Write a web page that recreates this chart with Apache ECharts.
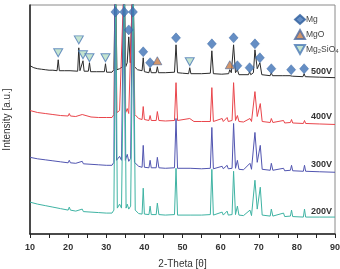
<!DOCTYPE html>
<html>
<head>
<meta charset="utf-8">
<script src="https://cdn.jsdelivr.net/npm/echarts@6/dist/echarts.min.js"></script>
<style>
  html, body { margin: 0; padding: 0; background: #fff; }
  #chart { width: 340px; height: 269px; }
</style>
</head>
<body>
<div id="chart"></div>
<script>
// XRD 패턴 (2θ, intensity a.u.) - 각 전압별
const pattern500V = [[10,169],[11,167],[12,166],[13,165.5],[14,165],[15,164.5],[16,164.5],[17.1,164],[17.4,175],[17.7,164],[19,164],[20.5,164],[22.5,163.5],[22.8,187],[23.1,164],[23.6,164],[23.9,174],[24.2,163.5],[25.3,163.5],[25.6,172],[25.9,163],[27.5,163],[29.5,163],[29.8,171],[30.1,162.5],[31.5,162.5],[32.0,165],[32.4,260],[32.8,165],[33.5,166],[34.3,168],[34.7,260],[35.1,168],[35.5,172],[35.9,198],[36.3,172],[36.6,174],[37.0,260],[37.4,168],[38.2,165],[39.4,164],[39.7,177],[40.0,163],[41.2,162],[41.5,167],[41.8,162],[43.1,162],[43.4,168],[43.7,162],[45.5,162],[47.9,162.5],[48.3,190],[48.7,162],[50,161.5],[51.6,161],[51.9,167],[52.2,161],[55,161],[57.3,161.5],[57.7,184],[58.1,161],[60.3,160.5],[60.5,162],[60.8,160.5],[62.1,161],[62.4,165],[62.8,162],[63.4,190],[63.9,162],[64.4,165],[64.8,160],[67.3,160],[67.6,163],[67.9,160],[68.6,162],[69.0,185],[69.6,166],[70.3,172],[70.8,160],[73.0,159],[73.3,162],[73.6,159],[76.3,159],[76.6,160],[76.9,159],[78.2,159],[78.5,161],[78.8,158.5],[81.6,158],[81.9,161],[82.2,158],[86,157.5],[90,157]];

const pattern400V = [[10,124],[12,122],[14,121],[16,120],[18,119],[20,118.5],[20.3,121],[20.6,118.5],[22,118],[23.7,120],[24,118],[26,117.5],[28,117],[30,117],[31.5,117],[32.0,120],[32.4,260],[32.8,122],[33.5,124],[34.0,122],[34.7,260],[35.1,122],[35.5,126],[35.9,121],[36.4,122],[37.0,260],[37.5,120],[38.5,116],[39.4,115],[39.7,128],[40.0,115],[41.2,114],[41.5,119],[41.8,114],[43.1,114],[43.4,123],[43.8,114],[45.5,113.5],[47.9,114],[48.3,152],[48.7,114],[51.9,116],[53,113],[55,113],[57.3,113],[57.7,147],[58.1,113],[60.4,116],[60.7,113],[61.7,117],[62.0,113],[63.0,114],[63.4,152],[63.9,114],[64.4,119],[64.8,113],[66,112.5],[67.7,116],[68.1,113],[68.6,114],[69.0,143],[69.6,118],[70.4,131],[70.9,113],[73.0,112],[73.3,116],[73.7,112],[76.5,114],[76.8,111.5],[78.3,112],[78.6,115],[78.9,111.5],[81.7,111],[82,114],[82.3,111],[86,110.5],[90,110]];

const pattern300V = [[10,77],[12,75.5],[14,74.5],[16,73.5],[18,72.5],[20,71.5],[20.3,74],[20.6,71.5],[22,71],[23.7,73],[24,70.5],[26,70],[28,69.5],[30,69],[31.5,69],[32.0,72],[32.3,260],[32.7,74],[33.5,78],[34.0,74],[34.6,260],[35.0,74],[35.5,80],[35.9,73],[36.4,76],[36.9,260],[37.4,72],[38.5,68],[39.4,67],[39.7,89],[40.0,67],[41.2,66.5],[41.5,74],[41.8,66.5],[43.1,66.5],[43.4,77],[43.8,66.5],[45.5,66],[47.9,66.5],[48.3,116],[48.7,66],[52,66],[55,65.5],[57.3,66],[57.7,107],[58.1,65.5],[60.4,68],[60.7,65.5],[61.7,69],[62.0,65.5],[63.0,66],[63.4,111],[63.9,66],[64.4,74],[64.8,65],[66,64.5],[67.7,71],[68.1,65],[68.6,66],[69.0,102],[69.6,72],[70.4,89],[70.9,65],[73.0,64],[73.3,71],[73.7,64],[76.5,66],[76.8,63.5],[78.3,64],[78.6,69],[78.9,63.5],[81.7,63],[82,69],[82.3,63],[86,62.5],[90,62]];

const pattern200V = [[10,32],[12,30],[14,28.5],[16,27],[18,25.5],[20,24],[20.3,27],[20.6,24],[22,23],[23.7,25],[24,22.5],[26,22],[28,21.5],[30,21],[31.5,21],[32.0,24],[32.5,260],[32.9,26],[33.5,30],[34.0,26],[34.8,260],[35.2,26],[35.5,30],[35.9,25],[36.4,28],[37.1,260],[37.6,24],[38.5,20.5],[39.4,20],[39.7,46],[40.0,20],[41.2,19.5],[41.5,28],[41.8,19.5],[43.1,19.5],[43.4,31],[43.8,19.5],[45.5,19],[47.9,19.5],[48.3,66],[48.7,19],[52,19],[55,19],[57.3,19.5],[57.7,65],[58.1,19],[60.4,22],[60.7,19],[61.7,23],[62.0,19],[63.0,19.5],[63.4,63],[63.9,19.5],[64.4,28],[64.8,19],[66,18.5],[67.7,24],[68.1,18.5],[68.6,19.5],[69.0,54],[69.6,25],[70.4,47],[70.9,19],[73.0,18],[73.3,25],[73.7,18],[76.5,21],[76.8,17.5],[78.3,18],[78.6,24],[78.9,17.5],[81.7,17],[82,25],[82.3,17],[86,17],[90,17]];

// 상(phase) 표시 마커 위치
const mgMarks = [[32.4,223],[34.7,223],[37.0,223],[35.9,205],[39.7,183],[41.5,172],[48.3,197],[57.7,191],[63.4,197],[64.4,169],[67.6,167],[69.0,191],[70.3,177],[73.3,166],[78.5,165],[81.9,166]];
const mgoMarks = [[43.4,174],[62.4,170]];
const mg2sio4Marks = [[17.4,182],[22.8,195],[23.9,180],[25.6,177],[29.8,177],[51.9,173]];

const voltageLabels = ['500V', '400V', '300V', '200V'];
const lineColors = ['#2b2b2b', '#e9454b', '#5155b0', '#3fb3a3'];
const xTicks = [10, 20, 30, 40, 50, 60, 70, 80, 90];

const chart = echarts.init(document.getElementById('chart'), null, { renderer: 'canvas' });

const font = '"Liberation Sans", Arial, sans-serif';
const patterns = [pattern500V, pattern400V, pattern300V, pattern200V];

const lineSeries = patterns.map((d, i) => ({
  name: voltageLabels[i],
  type: 'line',
  data: d,
  symbol: 'none',
  clip: true,
  lineStyle: { color: lineColors[i], width: 1 },
  z: 2
}));

// 전압 라벨 (선 끝 위)
const labelY = [73, 118, 166, 213];

// 역삼각형 아이콘 (범례용)
const downTriangle = 'path://M0,0 L10,0 L5,9 Z';

const option = {
  animation: false,
  backgroundColor: '#fff',
  textStyle: { fontFamily: font },
  grid: {
    left: 30, right: 5, top: 5, bottom: 35,
    outerBoundsMode: 'none',
    show: true, borderColor: '#8a8a8a', borderWidth: 1
  },
  legend: {
    data: [
      { name: 'Mg' },
      { name: 'MgO' },
      { name: 'Mg₂SiO₄', icon: downTriangle }
    ],
    orient: 'vertical',
    left: 289, top: 9,
    itemWidth: 10, itemHeight: 9, itemGap: 4,
    textStyle: { fontSize: 8.5, color: '#444', fontFamily: font, padding: [0, 0, 0, -4] }
  },
  xAxis: {
    type: 'value',
    min: 10, max: 90, interval: 10,
    name: '2-Theta [θ]',
    nameLocation: 'middle',
    nameGap: 25,
    nameTextStyle: { fontSize: 10, color: '#333', fontFamily: font },
    axisLine: { lineStyle: { color: '#222', width: 1.5 } },
    axisTick: { show: true, length: 4, lineStyle: { color: '#222' } },
    minorTick: { show: true, splitNumber: 2, length: 4, lineStyle: { color: '#222' } },
    axisLabel: {
      fontSize: 9, fontWeight: 'bold', color: '#333', margin: 9,
      formatter: v => xTicks.includes(v) ? String(v) : ''
    },
    splitLine: { show: false }
  },
  yAxis: {
    type: 'value',
    min: 0, max: 230,
    name: 'Intensity [a.u.]',
    nameLocation: 'middle',
    nameGap: 18,
    nameTextStyle: { fontSize: 10, color: '#333', fontFamily: font },
    axisLine: { show: true, lineStyle: { color: '#222', width: 1.5 } },
    axisTick: { show: false },
    axisLabel: { show: false },
    splitLine: { show: false }
  },
  graphic: voltageLabels.map((t, i) => ({
    type: 'text',
    right: 8,
    top: labelY[i] - 6,
    style: { text: t, fill: '#333', font: 'bold 9px ' + font }
  })),
  series: [
    ...lineSeries,
    {
      name: 'Mg', type: 'scatter', data: mgMarks,
      symbol: 'diamond', symbolSize: [9, 10],
      itemStyle: { color: '#3f72b5', borderColor: '#2f5f9e', borderWidth: 0.5 },
      z: 5
    },
    {
      name: 'MgO', type: 'scatter', data: mgoMarks,
      symbol: 'triangle', symbolSize: [9, 8],
      itemStyle: { color: '#c77a45', borderColor: '#4d6aa0', borderWidth: 0.8 },
      z: 5
    },
    {
      name: 'Mg₂SiO₄', type: 'scatter', data: mg2sio4Marks,
      symbol: 'triangle', symbolRotate: 180, symbolSize: [9, 8],
      itemStyle: { color: '#b5ddc4', borderColor: '#4a78b5', borderWidth: 1 },
      z: 5
    }
  ]
};

chart.setOption(option);
</script>
</body>
</html>
